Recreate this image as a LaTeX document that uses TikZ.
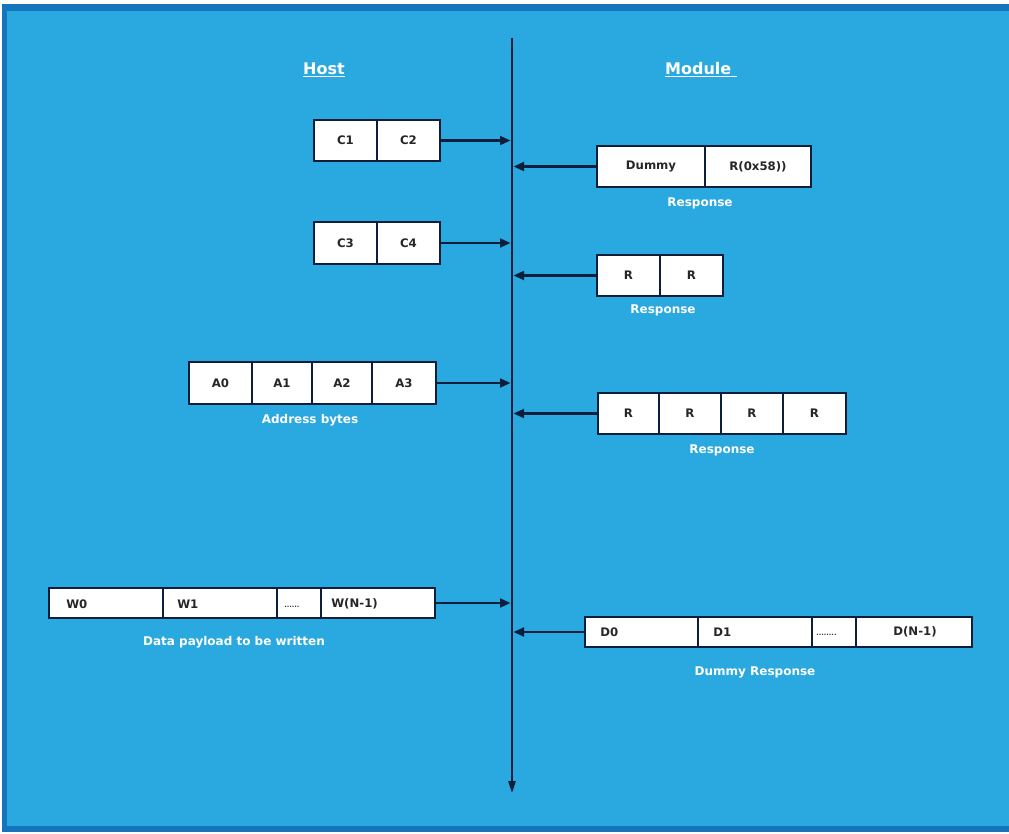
\documentclass[tikz,border=0pt]{standalone}
\usepackage{fontspec}
\setmainfont{DejaVu Sans}
\usetikzlibrary{arrows.meta}
\definecolor{panel}{HTML}{29A9E0}
\definecolor{rim}{HTML}{1674BC}
\definecolor{ink}{HTML}{0B1E3C}
\tikzset{
  cell/.style={draw=ink, fill=white, line width=1.4pt, inner sep=0pt, outer sep=0pt,
    font=\fontsize{8.8}{10}\selectfont\bfseries, text=black!85},
  celltext/.style={inner sep=0pt, font=\fontsize{8.8}{10}\selectfont\bfseries, text=black!85},
  dots/.style={inner sep=0pt, font=\fontsize{5}{6}\selectfont\bfseries, text=black!80},
  caption/.style={inner sep=0pt, font=\fontsize{9}{10}\selectfont\bfseries, text=white},
  header/.style={inner sep=0pt, font=\fontsize{12}{14}\selectfont\bfseries, text=white},
  flow/.style={draw=ink, line width=2pt, -{Triangle[length=8pt,width=6.5pt]}},
  spine/.style={draw=ink, line width=1.5pt, -{Triangle[length=9pt,width=5.5pt]}}
}
% one byte cell: name, x1, y1, x2, y2, text
\newcommand\bytecell[6]{%
  \node[cell, minimum width={(#4-#2)*0.75pt}, minimum height={(#5-#3)*0.75pt}]
    (#1) at ({(#2+#4)/2},{(#3+#5)/2}) {#6};}
\begin{document}
\begin{tikzpicture}[x=0.75pt,y=-0.75pt]
  \useasboundingbox (0,0) rectangle (1009,834);
  % panel with its darker rim
  \fill[white] (0,0) rectangle (1009,834);
  \fill[rim] (2,4) rectangle (1009,832);
  \fill[panel] (7,11) rectangle (1009,826);

  % time line between host and module
  \coordinate (top) at (512,38);
  \coordinate (bottom) at (512,793);
  \draw[spine] (top) -- (bottom);

  % headers
  \node[header] (host) at (324,70) {\underline{Host}};
  \node[header] (module) at (701,70) {\underline{Module~}};

  % command bytes C1 C2
  \bytecell{c1}{314}{120}{377}{161}{C1}
  \bytecell{c2}{377}{120}{440}{161}{C2}
  \draw[flow, shorten >=1pt] (c2.east) -- (c2.east -| top);

  % first response
  \bytecell{dummy}{597}{146}{705}{187}{Dummy}
  \bytecell{r58}{705}{146}{811}{187}{R(0x58))}
  \draw[flow, shorten >=1pt] (dummy.west) -- (dummy.west -| top);
  \node[caption] (resp1) at (700,203) {Response};

  % command bytes C3 C4
  \bytecell{c3}{314}{222}{377}{264}{C3}
  \bytecell{c4}{377}{222}{440}{264}{C4}
  \draw[flow, shorten >=1pt] (c4.east) -- (c4.east -| top);

  % second response
  \bytecell{ra}{597}{255}{660}{296}{R}
  \bytecell{rb}{660}{255}{723}{296}{R}
  \draw[flow, shorten >=1pt] (ra.west) -- (ra.west -| top);
  \node[caption] (resp2) at (663,310) {Response};

  % address bytes
  \bytecell{a0}{189}{362}{252}{404}{A0}
  \bytecell{a1}{252}{362}{312}{404}{A1}
  \bytecell{a2}{312}{362}{372}{404}{A2}
  \bytecell{a3}{372}{362}{436}{404}{A3}
  \draw[flow, shorten >=1pt] (a3.east) -- (a3.east -| top);
  \node[caption] (addr) at (310,420) {Address bytes};

  % third response
  \bytecell{rc}{598}{393}{659}{434}{R}
  \bytecell{rd}{659}{393}{721}{434}{R}
  \bytecell{re}{721}{393}{783}{434}{R}
  \bytecell{rf}{783}{393}{846}{434}{R}
  \draw[flow, shorten >=1pt] (rc.west) -- (rc.west -| top);
  \node[caption] (resp3) at (722,450) {Response};

  % write payload
  \bytecell{w0}{49}{588}{163}{618}{}
  \bytecell{w1}{163}{588}{277}{618}{}
  \bytecell{wdots}{277}{588}{321}{618}{}
  \bytecell{wn}{321}{588}{435}{618}{}
  \node[celltext, anchor=west] (w0t) at (66,604) {W0};
  \node[celltext, anchor=west] (w1t) at (177,604) {W1};
  \node[dots, anchor=west] (wdt) at (284,607) {......};
  \node[celltext, anchor=west] (wnt) at (331,604) {W(N-1)};
  \draw[flow, shorten >=1pt] (wn.east) -- (wn.east -| top);
  \node[caption] (payload) at (234,642) {Data payload to be written};

  % dummy response to the payload
  \bytecell{d0}{585}{617}{698}{647}{}
  \bytecell{d1}{698}{617}{812}{647}{}
  \bytecell{ddots}{812}{617}{856}{647}{}
  \bytecell{dn}{856}{617}{972}{647}{}
  \node[celltext, anchor=west] (d0t) at (600,632) {D0};
  \node[celltext, anchor=west] (d1t) at (713,632) {D1};
  \node[dots, anchor=west] (ddt) at (816,635) {........};
  \node[celltext] (dnt) at (915,632) {D(N-1)};
  \draw[flow, shorten >=1pt] (d0.west) -- (d0.west -| top);
  \node[caption] (dresp) at (755,672) {Dummy Response};
\end{tikzpicture}
\end{document}
